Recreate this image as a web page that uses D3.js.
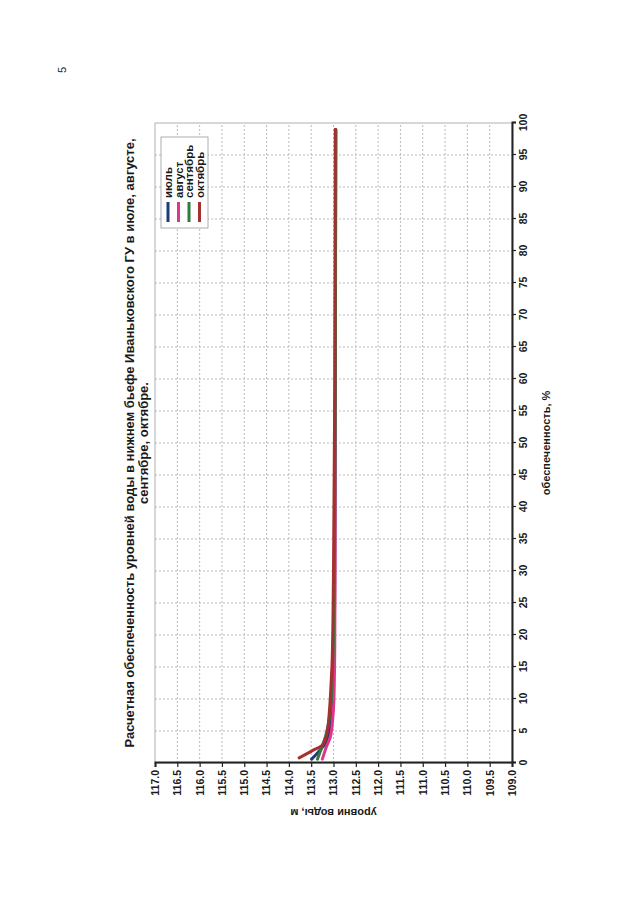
<!DOCTYPE html>
<html><head><meta charset="utf-8">
<script src="https://cdn.jsdelivr.net/npm/d3@7/dist/d3.min.js"></script>
<style>
body{margin:0;background:#fff}
svg text{font-family:"Liberation Sans",Arial,sans-serif;fill:#1a1a1a}
</style>
</head><body>
<svg id="c" width="640" height="905"></svg>
<script>
const titleLines = ["Расчетная обеспеченность уровней воды в нижнем бьефе Иваньковского ГУ в июле, августе,", "сентябре, октябре."];
const xTitle = "обеспеченность, %";
const yTitle = "уровни воды, м";
const pctTicks = [0,5,10,15,20,25,30,35,40,45,50,55,60,65,70,75,80,85,90,95,100];
const lvlTicks = [109.0,109.5,110.0,110.5,111.0,111.5,112.0,112.5,113.0,113.5,114.0,114.5,115.0,115.5,116.0,116.5,117.0];
const seriesNames = ["июль","август","сентябрь","октябрь"];
const seriesColors = ["#1f3b7a","#e0358d","#2f7a3e","#a6302f"];
const julPct = [0.6,1.8,3.1,5,8,15,30,60,99];
const julLvl = [113.49,113.33,113.18,113.10,113.04,113.0,112.97,112.96,112.95];
const augPct = [0.6,2.5,4.1,6.7,10,20,50,99];
const augLvl = [113.25,113.16,113.07,113.02,112.99,112.97,112.96,112.95];
const sepPct = [0.6,2.1,4.1,6.7,10,15,30,60,99];
const sepLvl = [113.36,113.28,113.18,113.10,113.05,113.02,112.98,112.96,112.95];
const octPct = [0.8,1.9,2.8,4.9,8.3,13,16,30,60,99];
const octLvl = [113.77,113.48,113.25,113.14,113.09,113.05,113.03,113.0,112.97,112.96];
const seriesPct = [julPct,augPct,sepPct,octPct];
const seriesLvl = [julLvl,augLvl,sepLvl,octLvl];

const svg = d3.select("#c");
const W = 640, H = 357;
const g = svg.append("g").attr("transform","translate(155,763) rotate(-90)");
const x = d3.scaleLinear().domain([0,100]).range([0,W]);
const y = d3.scaleLinear().domain([109,117]).range([H,0]);

// plot frame
g.append("rect").attr("x",0).attr("y",0).attr("width",W).attr("height",H)
 .attr("fill","#fff").attr("stroke","#b0b0b0").attr("stroke-width",1);

// gridlines
g.append("g").selectAll("line").data(pctTicks.slice(1,-1)).join("line")
 .attr("x1",d=>x(d)).attr("x2",d=>x(d)).attr("y1",0).attr("y2",H)
 .attr("stroke","#aaa").attr("stroke-width",0.8).attr("stroke-dasharray","2,2");
g.append("g").selectAll("line").data(lvlTicks.slice(1,-1)).join("line")
 .attr("x1",0).attr("x2",W).attr("y1",d=>y(d)).attr("y2",d=>y(d))
 .attr("stroke","#aaa").attr("stroke-width",0.8).attr("stroke-dasharray","2,2");

// series
const line = d3.line().x(d=>x(d[0])).y(d=>y(d[1])).curve(d3.curveMonotoneX);
seriesNames.forEach((n,i)=>{
  const pts = seriesPct[i].map((p,j)=>[p,seriesLvl[i][j]]);
  g.append("path").datum(pts).attr("d",line).attr("fill","none")
   .attr("stroke",seriesColors[i]).attr("stroke-width",3).attr("stroke-linecap","round");
});

// axes
const ax = g.append("g").attr("transform",`translate(0,${H})`)
 .call(d3.axisBottom(x).tickValues(pctTicks).tickFormat(d3.format("d")).tickSize(4).tickPadding(4));
const ay = g.append("g")
 .call(d3.axisLeft(y).tickValues(lvlTicks).tickFormat(d3.format(".1f")).tickSize(4).tickPadding(3));
[ax,ay].forEach(a=>{
  a.select(".domain").attr("stroke","#222").attr("stroke-width",2);
  a.selectAll(".tick line").attr("stroke","#222").attr("stroke-width",1.2);
  a.selectAll(".tick text").attr("font-size",10.5).attr("font-weight","bold")
   .attr("fill","#1a1a1a").attr("font-family","Liberation Sans, Arial, sans-serif");
});

// axis titles
g.append("text").attr("x",W/2).attr("y",H+38).attr("text-anchor","middle")
 .attr("font-size",11).attr("font-weight","bold").text(xTitle);
g.append("text").attr("transform",`translate(-46,${H/2}) rotate(-90)`).attr("text-anchor","middle")
 .attr("font-size",11).attr("font-weight","bold").text(yTitle);

// title
g.selectAll(".ttl").data(titleLines).join("text").attr("class","ttl")
 .attr("x",W/2).attr("y",(d,i)=>-21+i*14).attr("text-anchor","middle")
 .attr("font-size",13).attr("font-weight","bold").text(d=>d);

// legend
const lg = g.append("g").attr("transform","translate(535,6)");
lg.append("rect").attr("width",91).attr("height",47).attr("fill","#fff")
 .attr("stroke","#999").attr("stroke-width",0.8);
seriesNames.forEach((n,i)=>{
  const yy = 7+i*10.5;
  lg.append("line").attr("x1",6).attr("x2",26).attr("y1",yy).attr("y2",yy)
   .attr("stroke",seriesColors[i]).attr("stroke-width",3);
  lg.append("text").attr("x",30).attr("y",yy+4).attr("font-size",11.5)
   .attr("font-weight","bold").text(n);
});

// page number
svg.append("text").attr("transform","translate(66,70) rotate(-90)").attr("text-anchor","middle")
 .attr("font-size",11).attr("fill","#333").text("5");
</script>
</body></html>
